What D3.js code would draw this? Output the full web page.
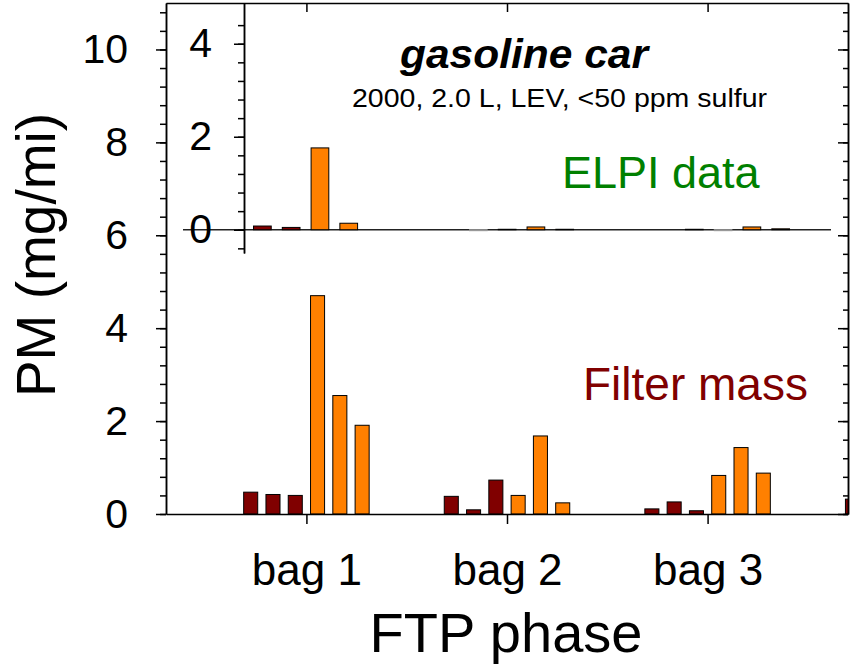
<!DOCTYPE html>
<html>
<head>
<meta charset="utf-8">
<script src="https://cdnjs.cloudflare.com/ajax/libs/d3/7.8.5/d3.min.js"></script>
<style>
body { margin: 0; background: #fff; }
svg { display: block; font-family: "Liberation Sans", Arial, sans-serif; }
.axis path, .axis line { stroke: #000; stroke-width: 1.5px; }
</style>
</head>
<body>
<div id="chart"></div>
<script>
//-----------------------------Data
// FTP phases (a 4th phase starts right at the edge and is cut off)
var phases = ["bag 1", "bag 2", "bag 3"];
var phasePos = [1, 2, 3, 4];

// filter mass, mg/mi (main panel)
var filterDark = [[0.47, 0.42, 0.40], [0.38, 0.09, 0.73], [0.11, 0.26, 0.07], [0.32]];
var filterOrange = [[4.70, 2.55, 1.91], [0.40, 1.68, 0.24], [0.83, 1.43, 0.88], []];

// ELPI data, mg/mi (inset)
var elpiDark = [[0.08, 0.05], [-0.02, 0.01], [0.01, -0.02]];
var elpiOrange = [[1.76, 0.14], [0.06, 0.01], [0.06, 0.02]];

var mainTicks = [0, 2, 4, 6, 8, 10];
var insetTicks = [0, 2, 4];

var darkColor = "#800000";
var orangeColor = "#ff8000";

//-----------------------------Layout
var w = 853;
var h = 667;
var plotLeft = 166, plotRight = 848, plotTop = 3, plotBottom = 514;
var insetLeft = 244, insetRight = 831, insetBottom = 253;

var svg = d3.select("#chart")
    .append("svg")
    .attr("width", w)
    .attr("height", h);

var x = d3.scaleLinear().domain([0.3, 3.7]).range([plotLeft, plotRight]);
var y = d3.scaleLinear().domain([0, 11]).range([plotBottom, plotTop]);

var xIn = d3.scaleLinear().domain([0.715, 3.433]).range([insetLeft, insetRight]);
var yIn = d3.scaleLinear().domain([-0.5, 4.876]).range([insetBottom, plotTop]);

// flatten a phase x run table into bar records
function make_bars(table, color, firstSlot) {
    var out = [];
    table.forEach(function(runs, i) {
        runs.forEach(function(v, j) {
            out.push({ pos: phasePos[i], slot: firstSlot + j, value: v, color: color });
        });
    });
    return out;
}

var mainBars = make_bars(filterDark, darkColor, -2.5).concat(make_bars(filterOrange, orangeColor, 0.5));
var insetBars = make_bars(elpiDark, darkColor, -1.5).concat(make_bars(elpiOrange, orangeColor, 0.5));

svg.append("clipPath").attr("id", "plot-clip")
    .append("rect")
    .attr("x", plotLeft).attr("y", plotTop)
    .attr("width", plotRight - plotLeft).attr("height", plotBottom - plotTop);

//-----------------------------Main bars
var mainStep = 1 / 9;
var mainWidth = 0.07;

svg.append("g")
    .attr("clip-path", "url(#plot-clip)")
    .selectAll("rect")
    .data(mainBars)
    .enter()
    .append("rect")
    .attr("x", function(d) { return x(d.pos + d.slot * mainStep - mainWidth / 2); })
    .attr("width", function(d) { return x(mainWidth) - x(0); })
    .attr("y", function(d) { return y(Math.max(0, d.value)); })
    .attr("height", function(d) { return Math.abs(y(d.value) - y(0)); })
    .attr("fill", function(d) { return d.color; })
    .attr("stroke", "#000")
    .attr("stroke-width", 1);

//-----------------------------Inset bars
var inStep = 0.1333;
var inWidth = 0.082;

svg.append("line")
    .attr("x1", 183).attr("x2", insetRight)
    .attr("y1", yIn(0)).attr("y2", yIn(0))
    .attr("stroke", "#222")
    .attr("stroke-width", 1.3);

svg.append("g")
    .selectAll("rect")
    .data(insetBars)
    .enter()
    .append("rect")
    .attr("x", function(d) { return xIn(d.pos + d.slot * inStep - inWidth / 2); })
    .attr("width", function(d) { return xIn(inWidth) - xIn(0); })
    .attr("y", function(d) { return yIn(Math.max(0, d.value)); })
    .attr("height", function(d) { return Math.abs(yIn(d.value) - yIn(0)); })
    .attr("fill", function(d) { return d.value < 0 ? "#ddd" : d.color; })
    .attr("stroke", function(d) { return d.value < 0 ? "#999" : "#000"; })
    .attr("stroke-width", 1);

//-----------------------------Axes
var minorMain = d3.range(0, 28).map(function(i) { return +(i * 0.4).toFixed(1); });
var minorInset = d3.range(-1, 12).map(function(i) { return +(i * 0.4).toFixed(1); });

// main left, minor then major with labels
svg.append("g").attr("class", "axis")
    .attr("transform", "translate(" + plotLeft + ",0)")
    .call(d3.axisLeft(y).tickValues(minorMain).tickSize(6).tickSizeOuter(0).tickFormat(""));
svg.append("g").attr("class", "axis")
    .attr("transform", "translate(" + plotLeft + ",0)")
    .call(d3.axisLeft(y).tickValues(mainTicks).tickSize(10).tickSizeOuter(0).tickPadding(28)
        .tickFormat(d3.format("d")));

// main right, inward ticks
svg.append("g").attr("class", "axis")
    .attr("transform", "translate(" + plotRight + ",0)")
    .call(d3.axisRight(y).tickValues(minorMain).tickSize(-5).tickSizeOuter(0).tickFormat(""));
svg.append("g").attr("class", "axis")
    .attr("transform", "translate(" + plotRight + ",0)")
    .call(d3.axisRight(y).tickValues(mainTicks).tickSize(-10).tickSizeOuter(0).tickFormat(""));

// main bottom with phase labels
var xAxis = svg.append("g").attr("class", "axis")
    .attr("transform", "translate(0," + plotBottom + ")")
    .call(d3.axisBottom(x).tickValues(phasePos.slice(0, phases.length)).tickSize(10).tickSizeOuter(0)
        .tickFormat(function(d, i) { return phases[i]; }));

// main top, inward ticks
svg.append("g").attr("class", "axis")
    .attr("transform", "translate(0," + plotTop + ")")
    .call(d3.axisTop(x).tickValues(phasePos.slice(0, phases.length)).tickSize(-9).tickSizeOuter(0).tickFormat(""));

// inset left axis
svg.append("g").attr("class", "axis")
    .attr("transform", "translate(" + insetLeft + ",0)")
    .call(d3.axisLeft(yIn).tickValues(minorInset).tickSize(6).tickSizeOuter(0).tickFormat(""));
svg.append("g").attr("class", "axis")
    .attr("transform", "translate(" + insetLeft + ",0)")
    .call(d3.axisLeft(yIn).tickValues(insetTicks).tickSize(10).tickSizeOuter(0).tickPadding(22)
        .tickFormat(d3.format("d")));

svg.selectAll(".axis text")
    .attr("font-family", "Liberation Sans, Arial, sans-serif")
    .attr("font-size", "41px")
    .attr("fill", "#000");
xAxis.selectAll("text").attr("font-size", "44px").attr("y", 71).attr("dy", null);

//-----------------------------Labels
svg.append("text")
    .attr("transform", "translate(55,255) rotate(-90)")
    .attr("text-anchor", "middle")
    .attr("font-size", "55px")
    .text("PM (mg/mi)");

svg.append("text")
    .attr("x", 506).attr("y", 652)
    .attr("text-anchor", "middle")
    .attr("font-size", "56px")
    .text("FTP phase");

svg.append("text")
    .attr("x", 400).attr("y", 68)
    .attr("font-size", "41px")
    .attr("font-weight", "bold")
    .attr("font-style", "italic")
    .attr("textLength", 248)
    .attr("lengthAdjust", "spacingAndGlyphs")
    .text("gasoline car");

svg.append("text")
    .attr("x", 352).attr("y", 107)
    .attr("font-size", "25px")
    .attr("textLength", 415)
    .attr("lengthAdjust", "spacingAndGlyphs")
    .text("2000, 2.0 L, LEV, <50 ppm sulfur");

svg.append("text")
    .attr("x", 562).attr("y", 188)
    .attr("font-size", "45px")
    .attr("fill", "#008000")
    .text("ELPI data");

svg.append("text")
    .attr("x", 583).attr("y", 400)
    .attr("font-size", "46px")
    .attr("fill", darkColor)
    .text("Filter mass");
</script>
</body>
</html>
